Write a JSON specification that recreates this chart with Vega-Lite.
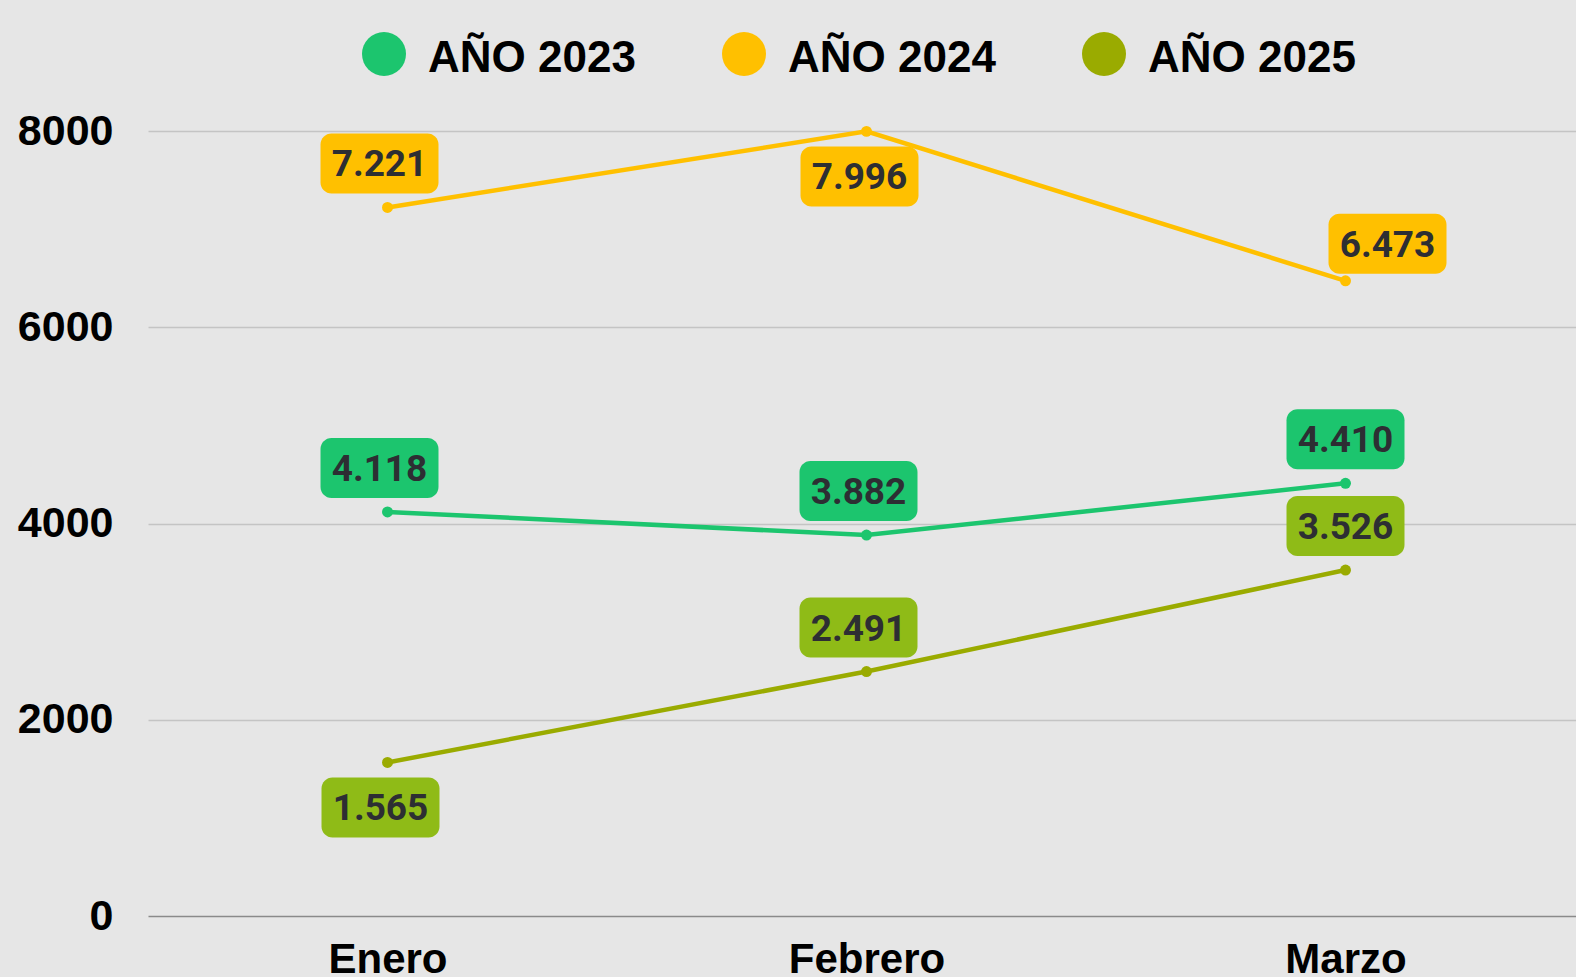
{
  "$schema": "https://vega.github.io/schema/vega-lite/v6.json",
  "width": 1437,
  "height": 785,
  "autosize": {"type": "none"},
  "padding": {"left": 148, "top": 131, "right": -9, "bottom": 61},
  "background": "#e6e6e6",
  "config": {
    "view": {"stroke": null},
    "font": "Liberation Sans",
    "locale": {"number": {"decimal": ",", "thousands": ".", "grouping": [3], "currency": ["", " €"]}}
  },
  "data": {
    "values": [
      {"mes": "Enero", "serie": "AÑO 2023", "valor": 4118},
      {"mes": "Febrero", "serie": "AÑO 2023", "valor": 3882},
      {"mes": "Marzo", "serie": "AÑO 2023", "valor": 4410},
      {"mes": "Enero", "serie": "AÑO 2024", "valor": 7221},
      {"mes": "Febrero", "serie": "AÑO 2024", "valor": 7996},
      {"mes": "Marzo", "serie": "AÑO 2024", "valor": 6473},
      {"mes": "Enero", "serie": "AÑO 2025", "valor": 1565},
      {"mes": "Febrero", "serie": "AÑO 2025", "valor": 2491},
      {"mes": "Marzo", "serie": "AÑO 2025", "valor": 3526}
    ]
  },
  "encoding": {
    "x": {
      "field": "mes", "type": "ordinal", "sort": ["Enero", "Febrero", "Marzo"],
      "scale": {"type": "point", "padding": 0.5},
      "axis": {"title": null, "labelAngle": 0, "labelFontSize": 42, "labelFontWeight": "bold", "labelColor": "#000000", "labelPadding": 23, "ticks": false, "domain": false, "grid": false}
    },
    "y": {
      "field": "valor", "type": "quantitative",
      "scale": {"domain": [0, 8000], "nice": false},
      "axis": {
        "title": null, "values": [0, 2000, 4000, 6000, 8000], "format": "d",
        "labelFontSize": 43, "labelFontWeight": "bold", "labelColor": "#000000", "labelPadding": 35,
        "ticks": false, "domain": false, "grid": true,
        "gridColor": {"condition": {"test": "datum.value === 0", "value": "#8a8a8a"}, "value": "#c4c4c4"},
        "gridWidth": 1.4
      }
    }
  },
  "layer": [
    {
      "mark": {"type": "line", "strokeWidth": 4.5},
      "encoding": {
        "color": {
          "field": "serie", "type": "nominal",
          "scale": {"domain": ["AÑO 2023", "AÑO 2024", "AÑO 2025"], "range": ["#1cc56e", "#ffc000", "#9aab00"]},
          "legend": {
            "orient": "none", "legendX": 214, "legendY": -99, "direction": "horizontal", "title": null,
            "symbolType": "circle", "symbolSize": 1936, "symbolStrokeWidth": 0,
            "labelFontSize": 44, "labelFontWeight": "bold", "labelColor": "#000000", "labelOffset": 22, "labelLimit": 500, "columnPadding": 86,
            "encode": {
              "symbols": {"update": {"fill": {"scale": "color", "field": "value"}, "stroke": {"value": "transparent"}, "opacity": {"value": 1}, "fillOpacity": {"value": 1}}},
              "labels": {"update": {"dy": {"value": 5}}}
            }
          }
        }
      }
    },
    {
      "mark": {"type": "point", "filled": true, "size": 120, "opacity": 1},
      "encoding": {
        "color": {
          "field": "serie", "type": "nominal",
          "scale": {"domain": ["AÑO 2023", "AÑO 2024", "AÑO 2025"], "range": ["#1cc56e", "#ffc000", "#9aab00"]},
          "legend": {
            "orient": "none", "legendX": 214, "legendY": -99, "direction": "horizontal", "title": null,
            "symbolType": "circle", "symbolSize": 1936, "symbolStrokeWidth": 0,
            "labelFontSize": 44, "labelFontWeight": "bold", "labelColor": "#000000", "labelOffset": 22, "labelLimit": 500, "columnPadding": 86,
            "encode": {
              "symbols": {"update": {"fill": {"scale": "color", "field": "value"}, "stroke": {"value": "transparent"}, "opacity": {"value": 1}, "fillOpacity": {"value": 1}}},
              "labels": {"update": {"dy": {"value": 5}}}
            }
          }
        }
      }
    },
    {
      "transform": [{"filter": "(datum.mes == 'Enero' && datum.serie != 'AÑO 2025') || (datum.mes == 'Febrero' && datum.serie != 'AÑO 2024')"}],
      "layer": [
        {
          "mark": {"type": "rect", "width": 118, "height": 60, "cornerRadius": 11, "xOffset": -8, "yOffset": -44},
          "encoding": {"fill": {"field": "serie", "type": "nominal", "scale": {"domain": ["AÑO 2023", "AÑO 2024", "AÑO 2025"], "range": ["#1cc56e", "#ffc000", "#8fbb17"]}, "legend": null}}
        },
        {
          "mark": {"type": "text", "font": "Liberation Sans Narrow, Roboto, sans-serif", "fontWeight": "bold", "fontSize": 37, "color": "#2d2e33", "baseline": "middle", "align": "center", "dx": -8, "dy": -42},
          "encoding": {"text": {"field": "valor", "type": "quantitative", "format": ",d"}}
        }
      ]
    },
    {
      "transform": [{"filter": "datum.mes == 'Marzo' && datum.serie != 'AÑO 2024'"}],
      "layer": [
        {
          "mark": {"type": "rect", "width": 118, "height": 60, "cornerRadius": 11, "xOffset": 0, "yOffset": -44},
          "encoding": {"fill": {"field": "serie", "type": "nominal", "scale": {"domain": ["AÑO 2023", "AÑO 2024", "AÑO 2025"], "range": ["#1cc56e", "#ffc000", "#8fbb17"]}, "legend": null}}
        },
        {
          "mark": {"type": "text", "font": "Liberation Sans Narrow, Roboto, sans-serif", "fontWeight": "bold", "fontSize": 37, "color": "#2d2e33", "baseline": "middle", "align": "center", "dx": 0, "dy": -42},
          "encoding": {"text": {"field": "valor", "type": "quantitative", "format": ",d"}}
        }
      ]
    },
    {
      "transform": [{"filter": "(datum.mes == 'Febrero' && datum.serie == 'AÑO 2024') || (datum.mes == 'Enero' && datum.serie == 'AÑO 2025')"}],
      "layer": [
        {
          "mark": {"type": "rect", "width": 118, "height": 60, "cornerRadius": 11, "xOffset": -7, "yOffset": 45},
          "encoding": {"fill": {"field": "serie", "type": "nominal", "scale": {"domain": ["AÑO 2023", "AÑO 2024", "AÑO 2025"], "range": ["#1cc56e", "#ffc000", "#8fbb17"]}, "legend": null}}
        },
        {
          "mark": {"type": "text", "font": "Liberation Sans Narrow, Roboto, sans-serif", "fontWeight": "bold", "fontSize": 37, "color": "#2d2e33", "baseline": "middle", "align": "center", "dx": -7, "dy": 47},
          "encoding": {"text": {"field": "valor", "type": "quantitative", "format": ",d"}}
        }
      ]
    },
    {
      "transform": [{"filter": "datum.mes == 'Marzo' && datum.serie == 'AÑO 2024'"}],
      "layer": [
        {
          "mark": {"type": "rect", "width": 118, "height": 60, "cornerRadius": 11, "xOffset": 42, "yOffset": -37},
          "encoding": {"fill": {"field": "serie", "type": "nominal", "scale": {"domain": ["AÑO 2023", "AÑO 2024", "AÑO 2025"], "range": ["#1cc56e", "#ffc000", "#8fbb17"]}, "legend": null}}
        },
        {
          "mark": {"type": "text", "font": "Liberation Sans Narrow, Roboto, sans-serif", "fontWeight": "bold", "fontSize": 37, "color": "#2d2e33", "baseline": "middle", "align": "center", "dx": 42, "dy": -35},
          "encoding": {"text": {"field": "valor", "type": "quantitative", "format": ",d"}}
        }
      ]
    }
  ]
}
